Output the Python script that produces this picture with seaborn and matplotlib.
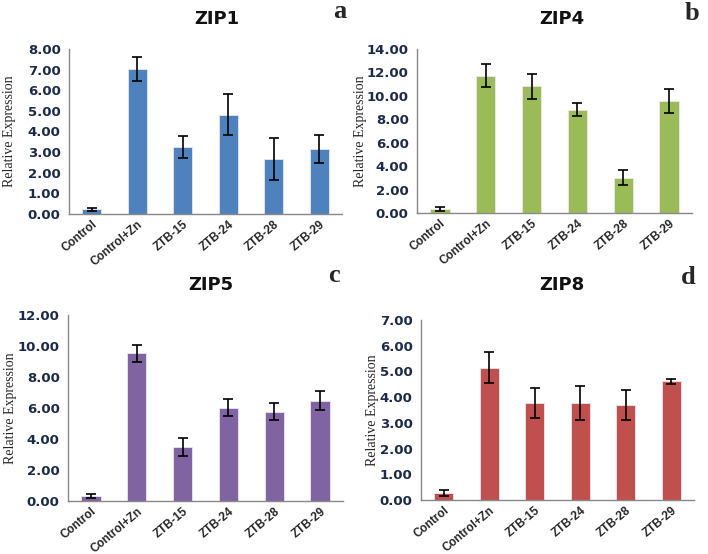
import matplotlib
matplotlib.use('Agg')
import matplotlib.pyplot as plt
import seaborn as sns
import numpy as np
from matplotlib.ticker import FormatStrFormatter, FixedLocator

groups = ['Control', 'Control+Zn', 'ZTB-15', 'ZTB-24', 'ZTB-28', 'ZTB-29']

zip1_mean = [0.22, 7.04, 3.24, 4.82, 2.67, 3.16]
zip1_err = [0.09, 0.59, 0.54, 1.00, 1.00, 0.69]

zip4_mean = [0.33, 11.73, 10.80, 8.82, 3.02, 9.58]
zip4_err = [0.15, 0.99, 1.04, 0.58, 0.62, 1.03]

zip5_mean = [0.30, 9.54, 3.48, 6.02, 5.77, 6.47]
zip5_err = [0.12, 0.55, 0.58, 0.55, 0.57, 0.61]

zip8_mean = [0.28, 5.14, 3.77, 3.77, 3.68, 4.61]
zip8_err = [0.11, 0.60, 0.57, 0.66, 0.58, 0.11]

sns.set_style('white')
plt.rcParams['font.family'] = ['DejaVu Sans']

fig = plt.figure(figsize=(7.08, 5.54), dpi=100)

panels = [
    # title, mean, err, color, ymax, step, rect, letter, title xy, letter xy, ylabel x
    ('ZIP1', zip1_mean, zip1_err, '#4F81BD', 8, 1, [69, 49, 342, 214], 'a', (217, 19), (340, 11), -0.194),
    ('ZIP4', zip4_mean, zip4_err, '#9BBB59', 14, 2, [417, 49, 692, 213], 'b', (562, 19), (692, 13), -0.182),
    ('ZIP5', zip5_mean, zip5_err, '#8064A2', 12, 2, [68, 315, 343, 501], 'c', (211, 285), (334, 275), -0.185),
    ('ZIP8', zip8_mean, zip8_err, '#C0504D', 7, 1, [421, 320, 694, 500], 'd', (562, 285), (688, 277), -0.154),
]

W, H = 708, 554
for title, mean, err, color, ymax, step, box, letter, txy, lxy, ylx in panels:
    l, t, r, b = box
    ax = fig.add_axes([l / W, 1 - b / H, (r - l) / W, (b - t) / H])
    sns.barplot(x=groups, y=mean, color=color, width=0.42, errorbar=None,
                saturation=1, edgecolor='#e8e8f0', linewidth=0.6, ax=ax)
    ax.errorbar(np.arange(len(groups)), mean, yerr=err, fmt='none',
                ecolor='black', elinewidth=1.2, capsize=3.6, capthick=1.2)

    ax.set_xlim(-0.5, len(groups) - 0.5)
    ax.set_ylim(0, ymax)
    ax.set_yticks(np.arange(0, ymax + step / 2, step))
    ax.yaxis.set_major_formatter(FormatStrFormatter('%.2f'))

    # category boundaries as x ticks, labels at centres
    ax.xaxis.set_major_locator(FixedLocator(np.arange(-0.5, len(groups), 1)))
    ax.set_xticklabels([''] * (len(groups) + 1))
    ax.set_xticks(np.arange(len(groups)), minor=True)
    ax.set_xticklabels(groups, minor=True, rotation=40, ha='right',
                       rotation_mode='anchor', fontsize=8.5, fontweight='bold',
                       family='Liberation Sans')
    ax.tick_params(axis='x', which='major', length=5, width=1, color='#888888', direction='out')
    ax.tick_params(axis='x', which='minor', length=0, pad=3)
    ax.tick_params(axis='y', length=3, width=1, color='#888888', direction='out',
                   labelsize=9.5, labelcolor='#1c2a4a', pad=3)
    for lab in ax.get_yticklabels():
        lab.set_fontweight('bold')

    for s in ['top', 'right']:
        ax.spines[s].set_visible(False)
    for s in ['left', 'bottom']:
        ax.spines[s].set_color('#888888')
        ax.spines[s].set_linewidth(1)

    ax.set_xlabel('')
    ax.set_ylabel('Relative Expression', family='Liberation Serif', fontsize=10)
    ax.yaxis.set_label_coords(ylx, 0.5)

    fig.text(txy[0] / W, 1 - txy[1] / H, title, ha='center', va='center',
             fontsize=13, fontweight='bold', color='#111111')
    fig.text(lxy[0] / W, 1 - lxy[1] / H, letter, ha='center', va='center',
             fontsize=19, fontweight='bold', family='Liberation Serif')

fig.savefig('out.png', dpi=100)
